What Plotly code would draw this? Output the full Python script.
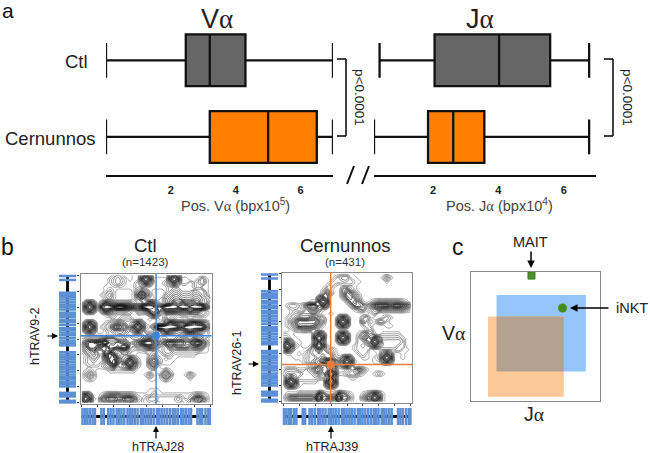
import plotly.graph_objects as go

W, H = 650, 453

# ---------- panel a data ----------
GROUPS = ["Cernunnos", "Ctl"]
# low whisker, q1, median, q3, high whisker
VA_CTL = [0.0, 2.46, 3.2, 4.3, 7.0]
VA_CER = [0.0, 3.2, 5.0, 6.5, 7.0]
JA_CTL = [0.37, 2.05, 4.02, 5.58, 6.77]
JA_CER = [0.2, 1.85, 2.62, 3.57, 6.77]
AXIS_TICKS = [2, 4, 6]
COL_CTL = "#666666"
COL_CER = "#ff8000"

# ---------- panel b data: usage density (33 x 33 cells) ----------
CTL_ROWS = [
"00000 00012 10011 46400 00464 00000 000",
"00000 00123 21011 69611 11696 11001 310",
"00000 00123 21112 46411 12464 11212 310",
"00000 01111 11112 21111 11222 22212 110",
"00000 01210 00013 53100 01233 22233 310",
"00000 12310 00015 85200 02344 33344 320",
"00000 01210 00013 53110 13455 44455 432",
"04640 36543 33323 35652 13576 76676 431",
"06960 79989 98766 89985 69998 99899 962",
"04640 36543 33213 34786 36665 55655 321",
"00000 01221 11111 11363 12221 22222 210",
"00000 00011 22211 11010 13110 00100 000",
"04640 01234 43346 41111 25765 54676 531",
"06960 12367 65269 62149 99998 79999 952",
"04640 01234 43246 41112 57654 46765 420",
"00111 11223 32211 23333 33333 22222 221",
"12333 45554 43322 35653 22334 44354 310",
"25778 89667 65345 79975 46777 76689 631",
"24775 53776 88323 35653 23545 55455 410",
"13452 25532 44211 12221 23322 22222 110",
"01343 16961 23110 00231 12211 11110 000",
"01232 25885 34641 00352 10110 00000 000",
"01222 13695 26962 00463 11100 00000 000",
"00111 12352 34641 00241 00000 00000 000",
"01210 00111 11110 00011 13100 00000 000",
"02420 00000 00000 01310 35300 01310 000",
"01210 00000 00000 00110 13100 00100 000",
"00000 00000 00000 00000 00000 00000 000",
"00000 00000 00000 00000 00000 00000 000",
"00000 00000 00000 00111 00000 00000 000",
"46400 13444 33321 11121 11111 11123 210",
"69610 46776 67752 12332 22223 21257 520",
"46400 24554 45531 12221 22222 12345 310",
]
CER_ROWS = [
"00000 00000 00000 11100 00000 00000 000",
"00000 00000 00012 33110 00000 13100 000",
"00000 00000 00122 22211 00000 01000 000",
"00000 00000 01210 11110 00000 00000 000",
"00000 00000 13100 34210 00000 00000 000",
"00000 00000 25200 36531 00000 00000 000",
"00000 00004 64000 25642 00000 00000 000",
"00000 00116 96000 02564 10123 33333 210",
"01221 25774 64000 00255 42467 77677 653",
"00110 13553 10000 00012 31234 33333 321",
"00122 33331 00100 00000 00120 00000 000",
"01234 44553 20004 64000 23100 12100 000",
"01357 77775 30006 96000 42013 31000 000",
"01246 66653 10004 64000 12100 01100 000",
"00122 33321 00000 00000 01200 00000 000",
"11100 00046 40004 64001 34310 11111 000",
"22110 00069 60006 96002 46464 22222 100",
"46411 00047 40004 64002 24696 33333 200",
"69621 00169 61000 00012 12464 33332 200",
"46411 11346 42210 00012 22011 22222 110",
"01110 12344 44310 00001 21001 46400 100",
"00011 12334 54421 46400 11012 69600 100",
"00000 12345 78753 69610 00011 46400 000",
"00000 00124 35752 46400 00000 00000 000",
"12221 12356 44640 01245 31000 00000 000",
"23333 22234 36961 12332 10012 10000 000",
"04642 22222 24740 00110 00000 00000 000",
"06961 11110 06960 00000 00000 00000 000",
"04641 00000 04640 00000 00000 00000 000",
"00000 00000 00000 00000 00000 00000 000",
"01112 22226 41126 42100 12464 10000 000",
"13555 55559 55559 55200 35696 10000 000",
"01222 22226 41126 42100 12464 10000 000",
]
# gene segment positions along each locus, same grid units
V_GENES = [0.2, 1.2, 4.4, 5.0, 5.5, 6.1, 6.8, 7.4, 8.0, 8.6, 9.4, 9.9, 10.5, 11.2, 11.8,
           12.5, 13.3, 13.8, 14.4, 15.0, 15.7, 16.4, 17.0, 17.6, 19.3, 19.9, 20.5, 21.1,
           21.7, 22.4, 23.0, 23.6, 24.2, 24.9, 25.5, 26.1, 26.7, 27.3, 27.9, 29.5, 30.1,
           30.4, 31.5, 31.9]
J_GENES = [0.2, 0.8, 1.4, 2.0, 2.7, 3.3, 4.9, 5.5, 6.6, 7.2, 7.9, 8.7, 9.3, 9.9, 10.6,
           11.4, 12.0, 12.6, 13.2, 13.9, 14.7, 15.3, 15.9, 16.6, 17.2, 17.9, 18.7, 19.3,
           19.9, 20.6, 21.3, 22.0, 22.7, 23.3, 23.9, 24.7, 25.3, 25.9, 26.6, 27.2, 28.8,
           29.4, 30.0, 30.8, 31.5, 31.9]
CTL_SPOT = (18.5, 15.2)
CER_SPOT = (11.9, 22.7)
COL_BLUE = "#3d86d6"
COL_ORANGE = "#e97b3c"
COL_GENE = "#5c8fd6"

# ---------- panel c data: (x0, x1, y0, y1) on a 0-100 repertoire square ----------
BLUE_BOX = [20, 89, 23, 82]
ORANGE_BOX = [13.4, 72, 3.6, 65.5]
OVERLAP_BOX = [20, 72, 23, 65.5]
MAIT_POS = (47, 97)
INKT_POS = (71, 72)

FONT = "Liberation Sans, Arial, sans-serif"
SERIF = "Liberation Serif"
ALPHA = f'<span style="font-family:{SERIF}">α</span>'


def dx(a, b):
    return [a / W, b / W]


def dy(top, bottom):
    return [1 - bottom / H, 1 - top / H]


def grid(rows):
    out = []
    for r in rows:
        s = r.replace(" ", "").ljust(33, "0")[:33]
        out.append([int(c) for c in s])
    return out


def stems(vals, lo, hi, horizontal):
    a, b = [], []
    for v in vals:
        if horizontal:
            a += [lo, hi, None]
            b += [v, v, None]
        else:
            a += [v, v, None]
            b += [lo, hi, None]
    return a, b


fig = go.Figure()


def box(name, s, col, xa, ya):
    fig.add_trace(go.Box(
        y=[name], lowerfence=[s[0]], q1=[s[1]], median=[s[2]], q3=[s[3]], upperfence=[s[4]],
        orientation="h", width=0.675, whiskerwidth=0.67, fillcolor=col, boxpoints=False,
        line=dict(color="#111111", width=2.3), xaxis=xa, yaxis=ya, showlegend=False))


box("Ctl", VA_CTL, COL_CTL, "x", "y")
box("Cernunnos", VA_CER, COL_CER, "x", "y")
box("Ctl", JA_CTL, COL_CTL, "x2", "y2")
box("Cernunnos", JA_CER, COL_CER, "x2", "y2")


def locus_panel(rows, spot, col, xmain, ymain, xtrack, ytrack):
    idx = list(range(33))
    fig.add_trace(go.Contour(
        z=grid(rows), x=idx, y=idx, xaxis=xmain, yaxis=ymain, showscale=False,
        contours=dict(coloring="lines", start=0.5, end=8, size=0.5),
        colorscale=[[0, "#8a8a8a"], [0.3, "#555555"], [0.6, "#222222"], [1, "#000000"]],
        line=dict(width=0.7, smoothing=1.3), hoverinfo="skip"))
    fig.add_trace(go.Scatter(x=[spot[0], spot[0], None, -1, 33], y=[-1, 33, None, spot[1], spot[1]],
                             mode="lines", line=dict(color=col, width=1.4),
                             xaxis=xmain, yaxis=ymain, showlegend=False))
    fig.add_trace(go.Scatter(x=[spot[0]], y=[spot[1]], mode="markers",
                             marker=dict(color=col, size=8), xaxis=xmain, yaxis=ymain, showlegend=False))
    # vertical (V) locus track
    fig.add_trace(go.Scatter(x=[0.5, 0.5], y=[0, 32], mode="lines", line=dict(color="#000000", width=2.8),
                             xaxis=xtrack, yaxis=ymain, showlegend=False))
    a, b = stems(V_GENES, 0, 1, True)
    fig.add_trace(go.Scatter(x=a, y=b, mode="lines", line=dict(color=COL_GENE, width=2.5),
                             xaxis=xtrack, yaxis=ymain, showlegend=False))
    # horizontal (J) locus track
    fig.add_trace(go.Scatter(x=[0, 32], y=[0.5, 0.5], mode="lines", line=dict(color="#000000", width=2.8),
                             xaxis=xmain, yaxis=ytrack, showlegend=False))
    a, b = stems(J_GENES, 0, 1, False)
    fig.add_trace(go.Scatter(x=a, y=b, mode="lines", line=dict(color=COL_GENE, width=2.5),
                             xaxis=xmain, yaxis=ytrack, showlegend=False))


locus_panel(CTL_ROWS, CTL_SPOT, COL_BLUE, "x3", "y3", "x4", "y4")
locus_panel(CER_ROWS, CER_SPOT, COL_ORANGE, "x5", "y5", "x6", "y6")


def rect(b, col):
    fig.add_trace(go.Scatter(x=[b[0], b[1], b[1], b[0], b[0]], y=[b[2], b[2], b[3], b[3], b[2]],
                             mode="lines", fill="toself", fillcolor=col, line=dict(width=0),
                             xaxis="x7", yaxis="y7", showlegend=False))


rect(BLUE_BOX, "#93c5f8")
rect(ORANGE_BOX, "#fdc998")
rect(OVERLAP_BOX, "#b5a18f")
fig.add_trace(go.Scatter(x=[MAIT_POS[0]], y=[MAIT_POS[1]], mode="markers", xaxis="x7", yaxis="y7",
                         marker=dict(symbol="square", size=7, color="#4f8f2c", line=dict(color="#3d7a20", width=1)),
                         showlegend=False))
fig.add_trace(go.Scatter(x=[INKT_POS[0]], y=[INKT_POS[1]], mode="markers", xaxis="x7", yaxis="y7",
                         marker=dict(size=9, color="#438f1e"), showlegend=False))

ann = []


def text(s, x, y, size, color="#111111", angle=0, anchor="center", **k):
    ann.append(dict(text=s, x=x / W, y=1 - y / H, xref="paper", yref="paper", showarrow=False,
                    font=dict(size=size, color=color, family=FONT), textangle=angle,
                    xanchor=anchor, yanchor="middle", **k))


def arrow(x, y, ax, ay, width=1.2):
    ann.append(dict(text="", x=x / W, y=1 - y / H, xref="paper", yref="paper", showarrow=True,
                    ax=ax - x, ay=ay - y, arrowhead=2, arrowsize=1, arrowwidth=width, arrowcolor="#000000"))


text("a", 8, 10, 21)
text(f"V{ALPHA}", 217, 19, 27, "#222222")
text(f"J{ALPHA}", 480, 19, 27, "#222222")
text("Ctl", 90, 61, 18.5, "#222222", anchor="right")
text("Cernunnos", 98, 138, 18.5, "#222222", anchor="right")
text(f"Pos. V{ALPHA} (bpx10<sup>5</sup>)", 235, 205, 14.5, "#444444")
text(f"Pos. J{ALPHA} (bpx10<sup>4</sup>)", 499, 205, 14.5, "#444444")
text("p&lt;0.0001", 359, 97, 13.5, "#222222", angle=90)
text("p&lt;0.0001", 627, 97, 13.5, "#222222", angle=90)
text("b", 7, 247, 23)
text("Ctl", 145, 245, 18.5, "#222222")
text("(n=1423)", 145, 262, 11.5, "#333333")
text("Cernunnos", 345, 245, 18.5, "#222222")
text("(n=431)", 345, 262, 11.5, "#333333")
text("hTRAV9-2", 35, 337, 12.5, "#222222", angle=-90)
text("hTRAV26-1", 237, 363, 12.5, "#222222", angle=-90)
text("hTRAJ28", 158, 447, 12.5, "#222222")
text("hTRAJ39", 332, 447, 12.5, "#222222")
arrow(58, 336, 46, 336)
arrow(259, 364, 247, 364)
arrow(156, 426, 156, 440)
arrow(331, 426, 331, 440)
text("c", 458, 247, 23)
text("MAIT", 530, 242, 14.5, "#222222")
text("iNKT", 632, 308, 14.5, "#222222")
text(f"V{ALPHA}", 453, 333, 19.5, "#222222")
text(f"J{ALPHA}", 534, 414, 19.5, "#222222")
arrow(531, 268, 531, 250, 1.5)
arrow(570, 308, 610, 308, 1.5)


def line_shape(x0, y0, x1, y1, width=1.6):
    return dict(type="line", xref="paper", yref="paper", x0=x0 / W, x1=x1 / W, y0=1 - y0 / H, y1=1 - y1 / H,
                line=dict(color="#111111", width=width))


shapes = [
    line_shape(337, 59, 346, 59), line_shape(346, 59, 346, 136), line_shape(337, 136, 346, 136),
    line_shape(604, 59, 613, 59), line_shape(613, 59, 613, 136), line_shape(604, 136, 613, 136),
    line_shape(347, 184, 354, 166, 2), line_shape(362, 184, 369, 166, 2),
]

hidden = dict(visible=False, fixedrange=True)
tick_font = dict(size=11, family=FONT, color="#222222", weight="bold")
frame = dict(showline=True, mirror=True, linecolor="#8a8a8a", linewidth=1.2, zeroline=False,
             showgrid=False, showticklabels=False, ticks="outside", ticklen=2, tickcolor="#444444",
             tickwidth=0.8, dtick=4, tick0=0)
cat = dict(type="category", categoryorder="array", categoryarray=GROUPS, range=[-0.49, 1.5],
           domain=dy(22, 174.5), showticklabels=False, showline=False, ticks="", showgrid=False, zeroline=False)
xbox = dict(showline=True, linecolor="#111111", linewidth=2, ticks="", tickvals=AXIS_TICKS, tickfont=tick_font,
            showgrid=False, zeroline=False, ticklabelstandoff=4)

fig.update_layout(
    width=W, height=H, margin=dict(l=0, r=0, t=0, b=0), paper_bgcolor="white", plot_bgcolor="white",
    boxmode="overlay", showlegend=False, annotations=ann, shapes=shapes, font=dict(family=FONT),
    xaxis=dict(domain=dx(106, 333), range=[0, 7], anchor="y", **xbox),
    yaxis=dict(anchor="x", **cat),
    xaxis2=dict(domain=dx(374, 596), range=[0.2, 6.98], anchor="y2", **xbox),
    yaxis2=dict(anchor="x2", **cat),
    xaxis3=dict(domain=dx(80.5, 211.5), range=[-0.3, 32.3], anchor="y3", **frame),
    yaxis3=dict(domain=dy(274, 404), range=[32.3, -0.3], anchor="x3", **frame),
    xaxis4=dict(domain=dx(59, 76), range=[0, 1], anchor="y3", **hidden),
    yaxis4=dict(domain=dy(408, 425), range=[0, 1], anchor="x3", **hidden),
    xaxis5=dict(domain=dx(282, 412), range=[-0.3, 32.3], anchor="y5", **frame),
    yaxis5=dict(domain=dy(272.5, 403), range=[32.3, -0.3], anchor="x5", **frame),
    xaxis6=dict(domain=dx(261, 278), range=[0, 1], anchor="y5", **hidden),
    yaxis6=dict(domain=dy(408, 425), range=[0, 1], anchor="x5", **hidden),
    xaxis7=dict(domain=dx(470.7, 600), range=[0, 100], anchor="y7", showline=True, mirror=True,
                linecolor="#8a8a8a", linewidth=1.2, showticklabels=False, ticks="", showgrid=False, zeroline=False),
    yaxis7=dict(domain=dy(271.7, 401.3), range=[0, 100], anchor="x7", showline=True, mirror=True,
                linecolor="#8a8a8a", linewidth=1.2, showticklabels=False, ticks="", showgrid=False, zeroline=False),
)

fig.write_html("out.html", config=dict(displayModeBar=False),
               post_script="document.body.style.margin='0';")
